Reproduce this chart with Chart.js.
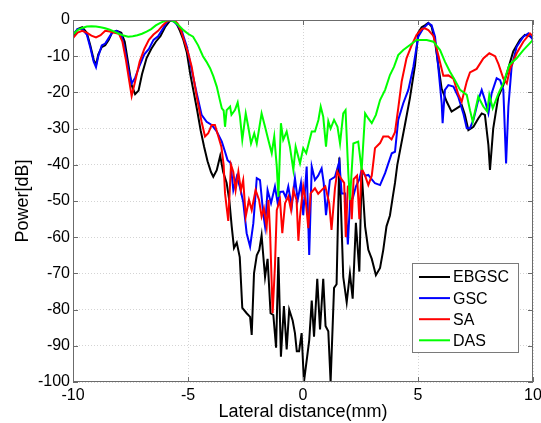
<!DOCTYPE html>
<html>
<head>
<meta charset="utf-8">
<script src="https://cdn.jsdelivr.net/npm/chart.js@4.4.1/dist/chart.umd.min.js"></script>
<style>
  html, body { margin: 0; padding: 0; background: #fff; }
</style>
</head>
<body>
<canvas id="beam" width="541" height="423"></canvas>
<script>
// [lateral distance (mm), power (dB)]
var ebgsc = [
  [-10,-4.5],[-9.8,-2.5],[-9.6,-2],[-9.4,-3.5],[-9.25,-7],[-9.1,-11],[-9,-12.4],[-8.9,-9.5],[-8.75,-7.5],[-8.6,-7],
  [-8.45,-5.5],[-8.3,-3.5],[-8.1,-3],[-7.9,-3.5],[-7.75,-6],[-7.6,-12],[-7.45,-18],[-7.3,-20.5],[-7.15,-19.5],[-7,-15],
  [-6.8,-10.5],[-6.6,-8],[-6.4,-6],[-6.2,-4.5],[-6,-2],[-5.8,-0.3],[-5.65,0],[-5.5,-1],[-5.35,-3],[-5.2,-5.5],
  [-5.05,-9],[-4.9,-15],[-4.75,-20],[-4.6,-25],[-4.45,-30.5],[-4.3,-35],[-4.15,-39],[-4,-42],[-3.9,-43.3],[-3.75,-41.5],
  [-3.6,-37.5],[-3.47,-42],[-3.32,-45],[-3.2,-50],[-3.1,-57],[-3,-63],[-2.88,-61.5],[-2.75,-65.5],[-2.64,-79.5],[-2.45,-81],
  [-2.3,-82],[-2.23,-87],[-2.13,-70],[-2.01,-65],[-1.9,-63.5],[-1.8,-59.5],[-1.65,-71],[-1.54,-66],[-1.41,-81],[-1.29,-81.5],
  [-1.17,-90.5],[-1.07,-65.5],[-0.96,-93],[-0.83,-79],[-0.71,-91],[-0.6,-80],[-0.45,-83],[-0.35,-86.5],[-0.27,-91.5],[-0.17,-91.5],
  [-0.06,-86.5],[0.04,-100],[0.16,-94],[0.27,-88.5],[0.38,-77.5],[0.48,-87.5],[0.62,-71.5],[0.74,-85.5],[0.88,-71.5],[0.98,-84.5],
  [1.1,-86],[1.2,-100],[1.35,-74],[1.46,-73],[1.58,-38],[1.75,-71],[1.9,-78],[2.04,-70],[2.16,-77],[2.3,-56],
  [2.45,-69.5],[2.55,-42],[2.7,-57],[2.84,-63.5],[2.99,-66],[3.17,-70.5],[3.35,-68.5],[3.49,-63.5],[3.63,-57],[3.78,-54],
  [3.9,-49],[4,-45],[4.1,-40],[4.22,-36],[4.43,-29],[4.65,-21.5],[4.87,-12.5],[5.01,-3.5],[5.16,-2],[5.3,-1.5],
  [5.45,-0.8],[5.59,-1.8],[5.74,-6],[5.88,-12.4],[6.03,-19],[6.25,-22.6],[6.46,-25.3],[6.68,-24.4],[6.9,-23.5],[7.04,-26.2],
  [7.19,-30.4],[7.41,-29.5],[7.62,-27.2],[7.77,-25.8],[7.91,-26.2],[8.06,-34.5],[8.13,-41.4],[8.27,-30],[8.49,-21.2],[8.71,-18],
  [8.93,-13.3],[9.14,-8.7],[9.43,-5.5],[9.65,-4.1],[9.87,-4.5],[10,-5]
];

var gsc = [
  [-10,-4],[-9.8,-2.5],[-9.6,-2.5],[-9.4,-4],[-9.25,-7.5],[-9.1,-11.5],[-9,-13],[-8.9,-10],[-8.75,-7],[-8.6,-6.5],
  [-8.45,-5],[-8.3,-3.5],[-8.1,-3],[-7.9,-4],[-7.75,-8],[-7.6,-13.5],[-7.45,-17.5],[-7.3,-16],[-7.1,-12.5],[-6.9,-9.5],
  [-6.7,-8],[-6.5,-5.5],[-6.3,-4.5],[-6.1,-2.5],[-5.9,-0.5],[-5.75,0],[-5.6,-0.5],[-5.45,-1.5],[-5.27,-3],[-5.05,-7.4],
  [-4.84,-13.8],[-4.62,-20.3],[-4.41,-26.2],[-4.19,-28.1],[-3.97,-29],[-3.75,-30.8],[-3.53,-33.6],[-3.39,-36.4],[-3.28,-38.7],[-3.15,-39.5],
  [-3.03,-47],[-2.88,-43.3],[-2.75,-46],[-2.6,-50.2],[-2.45,-58.9],[-2.3,-62.6],[-2.16,-56.2],[-2.01,-43.7],[-1.87,-44.2],[-1.73,-53.4],
  [-1.65,-57],[-1.54,-47],[-1.39,-50.6],[-1.22,-46],[-1.1,-50.6],[-1,-47.5],[-0.86,-47.4],[-0.75,-49],[-0.64,-46],[-0.49,-51.6],
  [-0.35,-43.7],[-0.23,-49.7],[-0.09,-45],[0.01,-53.9],[0.16,-40.5],[0.27,-64.9],[0.38,-40.5],[0.52,-44.2],[0.66,-43],[0.81,-41],
  [0.9,-45],[1,-53.9],[1.17,-44.2],[1.39,-43.3],[1.58,-39.1],[1.68,-47.9],[1.83,-47.9],[1.95,-62],[2.05,-49.5],[2.16,-49.3],
  [2.3,-46],[2.45,-44],[2.55,-41.4],[2.7,-43],[2.84,-42.8],[2.99,-44],[3.13,-45.1],[3.35,-45.6],[3.57,-42.3],[3.71,-39.6],
  [3.86,-36.8],[4,-36.4],[4.14,-27.6],[4.36,-23],[4.58,-19.3],[4.8,-12.9],[5.01,-4.6],[5.23,-2.3],[5.45,-0.9],[5.59,-1.4],
  [5.74,-4.6],[5.88,-12.9],[6.03,-23],[6.07,-28.5],[6.17,-19.3],[6.32,-18],[6.54,-18.4],[6.75,-21.2],[6.97,-25.8],[7.12,-29.9],
  [7.26,-29.9],[7.41,-27.6],[7.62,-22.1],[7.77,-19.3],[7.91,-22.1],[8.06,-25.8],[8.2,-20.3],[8.42,-16.1],[8.57,-16.6],[8.71,-19.3],
  [8.83,-39.6],[8.93,-23.9],[9.07,-12.9],[9.29,-7.4],[9.58,-4.6],[9.8,-3.7],[10,-5.5]
];

var sa = [
  [-10,-5],[-9.8,-3.5],[-9.6,-3],[-9.4,-3.5],[-9.2,-4.3],[-9,-4.8],[-8.8,-4.2],[-8.6,-3],[-8.4,-3.2],[-8.2,-3.5],
  [-8,-3.8],[-7.85,-6],[-7.7,-11],[-7.55,-17],[-7.45,-21],[-7.3,-17],[-7.1,-11.5],[-6.9,-8],[-6.7,-5.5],[-6.5,-4],
  [-6.3,-3],[-6.1,-1.5],[-5.9,-0.3],[-5.75,0],[-5.6,0],[-5.45,-1],[-5.3,-3],[-5.15,-6],[-5,-9],[-4.84,-12.9],
  [-4.62,-21.2],[-4.41,-28.1],[-4.26,-32.2],[-4.12,-31.3],[-3.97,-29],[-3.83,-29],[-3.68,-32.2],[-3.55,-35],[-3.45,-40],[-3.39,-47.9],
  [-3.25,-55.5],[-3.13,-40],[-3.03,-42],[-2.93,-47],[-2.81,-41.9],[-2.7,-47],[-2.6,-44.2],[-2.49,-54.3],[-2.35,-49.7],[-2.23,-52.5],
  [-2.06,-47],[-1.91,-49.7],[-1.8,-54.3],[-1.7,-52],[-1.58,-57.1],[-1.5,-49.7],[-1.43,-58.9],[-1.32,-81],[-1.22,-68],[-1.14,-52.5],
  [-1,-49.7],[-0.9,-58.9],[-0.78,-50.6],[-0.64,-48.8],[-0.52,-52.5],[-0.42,-47],[-0.28,-49.7],[-0.2,-61],[-0.13,-54.3],[0.01,-46],
  [0.12,-50],[0.23,-57.5],[0.33,-47.9],[0.52,-46.5],[0.66,-48],[0.81,-47],[0.97,-46],[1.14,-50.6],[1.24,-58],[1.39,-46.5],
  [1.49,-41.9],[1.64,-43.7],[1.79,-45],[1.86,-60],[1.95,-46],[2.04,-45.6],[2.12,-55],[2.2,-44],[2.35,-43],[2.45,-55],
  [2.55,-41],[2.7,-43],[2.84,-45.6],[2.99,-43],[3.13,-35.4],[3.35,-34],[3.49,-32.2],[3.71,-32.2],[3.85,-33],[4,-31],
  [4.14,-24.4],[4.29,-17],[4.5,-10.6],[4.73,-6.9],[4.94,-4.1],[5.16,-2.5],[5.3,-2.3],[5.45,-2.8],[5.67,-4.4],[5.88,-9.7],
  [6.1,-15.4],[6.32,-15.3],[6.54,-16.2],[6.75,-20.5],[6.9,-22.6],[7.12,-17],[7.26,-14.5],[7.55,-13.5],[7.84,-10.6],[8.1,-9.2],
  [8.35,-10],[8.5,-12.2],[8.71,-16.2],[8.86,-17.5],[9,-13.5],[9.29,-9.2],[9.58,-6],[9.87,-3.7],[10,-4.5]
];

var das = [
  [-10,-4],[-9.8,-2.8],[-9.6,-2.2],[-9.4,-1.8],[-9.2,-1.7],[-9,-1.8],[-8.8,-2],[-8.6,-2.3],[-8.4,-2.7],[-8.2,-3.2],
  [-8,-3.8],[-7.8,-4.3],[-7.6,-4.6],[-7.4,-4.5],[-7.2,-4.2],[-7,-3.8],[-6.8,-3.2],[-6.6,-2.5],[-6.4,-1.5],[-6.2,-0.8],
  [-6,-0.2],[-5.8,0],[-5.6,-0.4],[-5.4,-1.5],[-5.2,-2.8],[-5,-3.8],[-4.78,-4.6],[-4.56,-7],[-4.35,-10],[-4.2,-11.5],
  [-4.04,-13.3],[-3.9,-15.5],[-3.75,-18.4],[-3.62,-22],[-3.53,-24.4],[-3.45,-25],[-3.39,-29.5],[-3.32,-24.9],[-3.17,-23.9],[-3.11,-26.2],
  [-2.96,-24.9],[-2.84,-22.8],[-2.74,-26.7],[-2.64,-33.1],[-2.49,-25.8],[-2.38,-29.5],[-2.26,-34.1],[-2.12,-31.3],[-2.01,-34.1],[-1.8,-25.8],
  [-1.65,-29.5],[-1.51,-33.1],[-1.36,-36.8],[-1.25,-32.2],[-1.14,-40.5],[-1.07,-48.8],[-0.96,-28.5],[-0.86,-33.1],[-0.71,-30.8],[-0.57,-35],
  [-0.42,-41.4],[-0.32,-35],[-0.13,-39.6],[0.01,-35.4],[0.14,-36.8],[0.38,-30.8],[0.52,-30.8],[0.67,-27.6],[0.77,-23.9],[0.88,-26.7],
  [1,-35],[1.1,-28],[1.2,-30],[1.35,-27.6],[1.5,-29.5],[1.61,-34.1],[1.75,-25.8],[1.85,-24.9],[1.97,-42.4],[2.04,-49.7],
  [2.19,-34.1],[2.4,-33.6],[2.55,-41.4],[2.7,-25.8],[2.84,-27.2],[2.99,-28.5],[3.17,-26.2],[3.35,-22.1],[3.57,-19.3],[3.78,-15.2],
  [3.96,-12.9],[4.14,-9.7],[4.36,-8.3],[4.65,-6.9],[4.94,-5.5],[5.38,-5.5],[5.67,-6],[5.96,-8.3],[6.17,-11.5],[6.39,-14.3],
  [6.6,-16.6],[6.83,-19.3],[7.12,-20.7],[7.26,-24.9],[7.38,-28.1],[7.62,-21.2],[7.84,-23.9],[8.01,-25.3],[8.1,-20.7],[8.25,-24.4],
  [8.5,-20.3],[8.71,-17.5],[8.97,-12.4],[9.29,-10.6],[9.58,-8.3],[10,-5.5]
];

var seriesNames = ['EBGSC', 'GSC', 'SA', 'DAS'];
var seriesColors = ['#000000', '#0000ff', '#ff0000', '#00ff00'];
var xTicks = [-10, 10, 5];    // min, max, step
var yTicks = [-100, 0, 10];

var FONT = '"Liberation Sans", Arial, Helvetica, sans-serif';
Chart.defaults.font.family = FONT;
Chart.defaults.color = '#000';

function toPoints(arr) {
  return arr.map(function(p){ return {x: p[0], y: p[1]}; });
}

// box round the plot with inward ticks, matlab style
var axesBox = {
  id: 'axesBox',
  afterDatasetsDraw: function(chart) {
    var c = chart.ctx, a = chart.chartArea;
    var sx = chart.scales.x, sy = chart.scales.y;
    c.save();
    c.strokeStyle = '#6b6b6b';
    c.lineWidth = 1;
    c.strokeRect(a.left + 0.5, a.top + 0.5, a.right - a.left - 1, a.bottom - a.top - 1);
    c.beginPath();
    sx.ticks.forEach(function(t){
      var px = Math.round(sx.getPixelForValue(t.value)) + 0.5;
      c.moveTo(px, a.bottom); c.lineTo(px, a.bottom - 5);
      c.moveTo(px, a.top); c.lineTo(px, a.top + 5);
    });
    sy.ticks.forEach(function(t){
      var py = Math.round(sy.getPixelForValue(t.value)) + 0.5;
      c.moveTo(a.left, py); c.lineTo(a.left + 5, py);
      c.moveTo(a.right, py); c.lineTo(a.right - 5, py);
    });
    c.stroke();
    c.restore();
  }
};

var legendBox = {
  id: 'legendBox',
  afterDraw: function(chart) {
    var c = chart.ctx, a = chart.chartArea;
    var w = 106, h = 89;
    var x0 = a.right - 15 - w, y0 = a.bottom - 30 - h;
    c.save();
    c.fillStyle = '#fff';
    c.fillRect(x0, y0, w, h);
    c.strokeStyle = '#7a7a7a';
    c.lineWidth = 1;
    c.strokeRect(x0 + 0.5, y0 + 0.5, w, h);
    c.font = '16px ' + FONT;
    c.textBaseline = 'middle';
    chart.data.datasets.forEach(function(ds, i){
      var y = y0 + 14 + i * 21.1;
      c.strokeStyle = ds.borderColor;
      c.lineWidth = 2;
      c.beginPath();
      c.moveTo(x0 + 7, y); c.lineTo(x0 + 38, y);
      c.stroke();
      c.fillStyle = '#000';
      c.fillText(ds.label, x0 + 41, y + 1);
    });
    c.restore();
  }
};

var gridOpts = { color: '#d4d4d4', lineWidth: 1, drawTicks: false };

new Chart(document.getElementById('beam'), {
  type: 'line',
  data: {
    datasets: [ebgsc, gsc, sa, das].map(function(arr, i){
      return {
        label: seriesNames[i],
        data: toPoints(arr),
        borderColor: seriesColors[i],
        backgroundColor: seriesColors[i],
        borderWidth: 2,
        pointRadius: 0,
        tension: 0,
        fill: false,
        order: 3 - i
      };
    })
  },
  options: {
    responsive: false,
    animation: false,
    devicePixelRatio: 1,
    layout: { padding: { left: 0, top: 20, right: 8, bottom: 0 } },
    plugins: { legend: { display: false }, tooltip: { enabled: false } },
    scales: {
      x: {
        type: 'linear',
        min: xTicks[0], max: xTicks[1],
        ticks: { stepSize: xTicks[2], font: { size: 16 }, padding: 4, maxRotation: 0 },
        grid: gridOpts,
        border: { display: false, dash: [1, 2] },
        title: { display: true, text: 'Lateral distance(mm)', font: { size: 18 }, padding: { top: 0, bottom: 0 } },
        afterFit: function(s){ s.height = 41; s.paddingLeft = 0; s.paddingRight = 0; }
      },
      y: {
        type: 'linear',
        min: yTicks[0], max: yTicks[1],
        ticks: { stepSize: yTicks[2], font: { size: 16 }, padding: 3 },
        grid: gridOpts,
        border: { display: false, dash: [1, 2] },
        title: { display: true, text: 'Power[dB]', font: { size: 18 }, padding: { top: 12, bottom: 0 } },
        afterFit: function(s){ s.width = 73; s.paddingTop = 0; s.paddingBottom = 0; }
      }
    }
  },
  plugins: [axesBox, legendBox]
});
</script>
</body>
</html>
